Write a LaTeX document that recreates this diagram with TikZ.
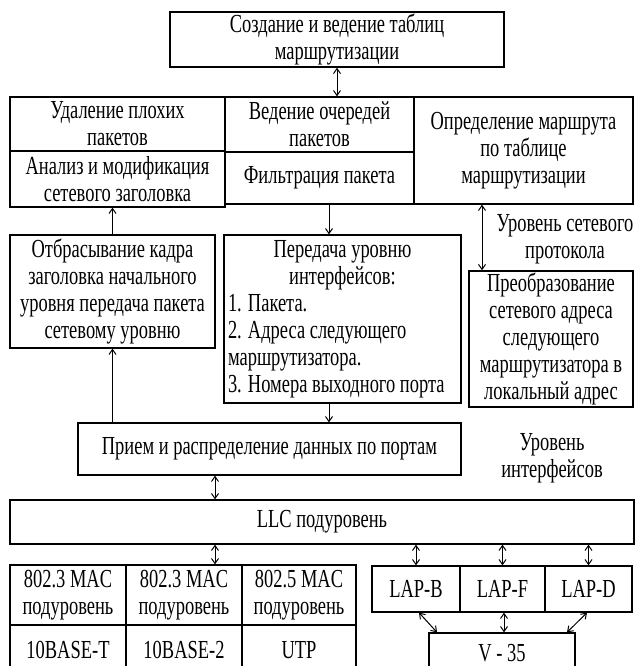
\documentclass[tikz,border=0pt]{standalone}
\usepackage{fontspec}
\setmainfont{Liberation Serif}[FakeStretch=0.71]
\usetikzlibrary{arrows.meta}
\newcommand\diagfont{\fontsize{26}{27}\selectfont}
\newcommand\midline[1]{\hbox to 229pt{\hfil #1\hfil}}
\begin{document}
\begin{tikzpicture}[x=1pt,y=-1pt,
  box/.style={draw, line width=1.3pt, inner sep=2pt, align=center, font=\diagfont},
  plain/.style={inner sep=0pt, align=center, font=\diagfont},
  wh/.style 2 args={minimum width=#1pt, minimum height=#2pt},
  tip/.tip={Straight Barb[length=5pt,width=7pt]},
  one/.style={line width=1pt, -tip},
  both/.style={line width=1pt, tip-tip}]

% routing table management
\node[box, wh={334}{55}] (top) at (337,39.5) {Создание и ведение таблиц\\маршрутизации};

% network protocol level
\node[box, wh={215}{54}] (del)   at (117.5,124) {Удаление плохих\\пакетов};
\node[box, wh={215}{56}] (anal)  at (117.5,179) {Анализ и модификация\\сетевого заголовка};
\node[box, wh={189}{55}] (queue) at (319.5,124.5) {Ведение очередей\\пакетов};
\node[box, wh={189}{52}] (filt)  at (319.5,178) {Фильтрация пакета};
\node[box, wh={219}{107}] (route) at (523.5,150.5) {Определение маршрута\\по таблице\\маршрутизации};

\node[box, wh={205}{113}] (drop) at (112.5,291.5)
  {Отбрасывание кадра\\заголовка начального\\уровня передача пакета\\сетевому уровню};
\node[box, wh={237}{168}, inner sep=4pt, align=left] (pass) at (342.5,319)
  {\midline{Передача уровню}\\\midline{интерфейсов:}\\1. Пакета.\\2. Адреса следующего\\маршрутизатора.\\3. Номера выходного порта};
\node[box, wh={164}{132}] (conv) at (551,339)
  {Преобразование\\сетевого адреса\\следующего\\маршрутизатора в\\локальный адрес};
\node[plain] (netlvl) at (565,239) {Уровень сетевого\\протокола};

% interface level
\node[box, wh={383}{52}] (recv) at (269.5,449) {Прием и распределение данных по портам};
\node[plain] (iflvl) at (552,458) {Уровень\\интерфейсов};
\node[box, wh={624}{44}] (llc) at (322,522) {LLC подуровень};

% MAC sublayers and media
\node[box, wh={116}{60}] (mac1) at (68,595)  {802.3 MAC\\подуровень};
\node[box, wh={116}{60}] (mac2) at (184,595) {802.3 MAC\\подуровень};
\node[box, wh={114}{60}] (mac3) at (299,595) {802.5 MAC\\подуровень};
\node[box, wh={116}{50}] (phy1) at (68,650)  {10BASE-T};
\node[box, wh={116}{50}] (phy2) at (184,650) {10BASE-2};
\node[box, wh={114}{50}] (phy3) at (299,650) {UTP};

% WAN link protocols
\node[box, wh={88}{46}] (lapb) at (416,589)   {LAP-B};
\node[box, wh={85}{46}] (lapf) at (502.5,589) {LAP-F};
\node[box, wh={87}{46}] (lapd) at (588.5,589) {LAP-D};
\node[box, wh={146}{40}] (v35) at (502,653) {V - 35};

% connectors
\draw[both] (top.south) -- (top.south |- queue.north);
\draw[one] (drop.north) -- (drop.north |- anal.south);
\draw[one] ([xshift=9.5pt]filt.south) -- ([xshift=9.5pt]filt.south |- pass.north);
\draw[both] ([xshift=-41.5pt]route.south) -- ([xshift=-41.5pt]route.south |- conv.north);
\draw[one] (drop.south |- recv.north) -- (drop.south);
\draw[one] ([xshift=-13.5pt]pass.south) -- ([xshift=-13.5pt]pass.south |- recv.north);
\draw[both] ([xshift=-54.5pt]recv.south) -- ([xshift=-54.5pt]recv.south |- llc.north);
\draw[both] ([xshift=31pt]mac2.north |- llc.south) -- ([xshift=31pt]mac2.north);
\draw[both] (lapb.north |- llc.south) -- (lapb.north);
\draw[both] (lapf.north |- llc.south) -- (lapf.north);
\draw[both] (lapd.north |- llc.south) -- (lapd.north);
\draw[both] ([xshift=3pt]lapb.south) -- ([xshift=-65pt]v35.north);
\draw[both] ([xshift=1.5pt]lapf.south) -- ([xshift=2pt]v35.north);
\draw[both] ([xshift=-1.5pt]lapd.south) -- ([xshift=65pt]v35.north);

\pgfresetboundingbox
\useasboundingbox (0,0) rectangle (635,666);
\end{tikzpicture}
\end{document}
